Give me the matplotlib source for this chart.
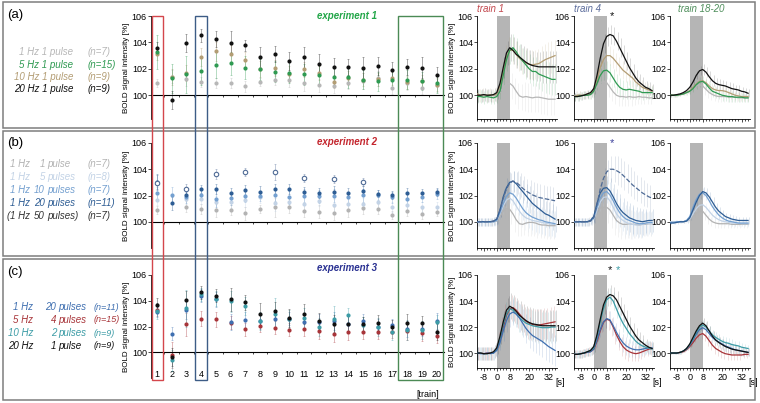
import numpy as np
import matplotlib
matplotlib.use("Agg")
import matplotlib.pyplot as plt
from matplotlib.patches import Rectangle
from matplotlib.transforms import blended_transform_factory

plt.rcParams['font.family'] = ['Liberation Sans', 'DejaVu Sans']
plt.rcParams['axes.linewidth'] = 0.6

nan = np.nan
trains = np.arange(1, 21)
t_sec = np.arange(-12, 37, 2)

# ---------------- train-wise means (left column) ----------------
# experiment 1
a_gray = [100.94, 101.40, 101.22, 101.01, 100.94, 100.94, 100.68, 101.01, 101.14, 101.14,
          100.89, 100.76, 100.68, 100.94, 101.09, 101.27, 100.56, 100.89, 100.58, 100.76]
a_green = [103.25, 101.27, 101.57, 101.85, 102.28, 102.41, 102.10, 101.95, 101.77, 101.72,
           101.58, 101.56, 101.40, 101.36, 101.19, 101.04, 101.19, 101.19, 101.06, 100.89]
a_tan = [103.16, 101.35, 101.70, 102.91, 103.32, 103.09, 102.66, 102.00, 102.08, 101.62,
         101.95, 101.68, 101.03, 101.30, 101.19, 101.22, 101.27, 100.99, 101.06, 100.81]
a_black = [103.54, 99.62, 103.97, 104.53, 104.25, 103.97, 103.77, 102.86, 103.14, 102.60,
           102.86, 102.40, 102.12, 102.12, 102.03, 102.23, 101.90, 102.15, 102.10, 101.52]
a_gray_err = [0.3, 0.5, 0.5, 0.4, 0.4, 0.4, 0.4, 0.3, 0.4, 0.5, 0.6, 0.5, 0.5, 0.5, 0.6, 0.6, 0.5, 0.5, 0.5, 0.5]
a_green_err = [1.3, 1.1, 1.4, 1.1, 1.0, 0.9, 0.9, 0.8, 0.8, 0.8, 0.8, 0.8, 0.8, 0.8, 0.7, 0.7, 0.7, 0.7, 0.7, 0.7]
a_tan_err = [0.5, 0.6, 0.6, 0.7, 0.7, 0.7, 0.6, 0.6, 0.6, 0.6, 0.6, 0.5, 0.5, 0.5, 0.5, 0.5, 0.5, 0.5, 0.5, 0.5]
a_black_err = [0.5, 0.7, 0.7, 0.5, 0.6, 0.9, 0.4, 0.8, 0.6, 0.7, 0.8, 0.7, 0.7, 0.6, 0.9, 0.7, 0.6, 0.6, 0.8, 0.6]

# experiment 2
b_gray = [100.89, nan, 101.16, 100.96, 100.89, 100.89, 100.63, 100.96, 101.09, 101.09,
          100.84, 100.76, 100.66, 100.89, 101.01, 100.96, 100.50, 100.84, 100.58, 100.76]
b_light = [101.67, nan, 101.75, 101.72, 101.47, 101.47, 101.65, 101.85, 101.42, 101.50,
           101.39, 101.57, 101.27, 101.32, 101.39, 101.47, 101.14, 101.29, 101.14, 101.14]
b_med = [102.18, 102.05, 101.85, 102.05, 101.72, 101.80, 101.97, 101.97, 102.05, 101.88,
         102.00, 101.95, 102.00, 101.85, 102.03, 102.05, 101.85, 101.77, 101.90, 102.10]
b_dark = [103.06, 101.42, 102.05, 102.48, 102.48, 102.18, 102.40, 102.30, 102.48, 102.48,
          102.25, 102.18, 102.29, 102.18, 102.35, 102.15, 102.03, 102.18, 102.18, 102.30]
b_open = [102.99, nan, 102.48, nan, 103.62, nan, 103.80, nan, 103.80, nan,
          103.35, nan, 103.27, nan, 103.06, nan, nan, nan, nan, nan]
b_gray_err = [0.3, 0.0, 0.4, 0.4, 0.5, 0.4, 0.5, 0.3, 0.7, 0.4, 0.5, 0.5, 0.5, 0.5, 0.4, 0.4, 0.3, 0.4, 0.4, 0.3]
b_light_err = [0.4, 0.0, 0.4, 0.4, 0.5, 0.4, 0.5, 0.4, 0.6, 0.4, 0.5, 0.4, 0.5, 0.4, 0.4, 0.4, 0.4, 0.4, 0.4, 0.4]
b_med_err = [0.5, 0.6, 0.4, 0.4, 0.6, 0.5, 0.5, 0.4, 0.5, 0.5, 0.5, 0.5, 0.5, 0.4, 0.5, 0.4, 0.4, 0.4, 0.4, 0.4]
b_dark_err = [0.6, 0.5, 0.4, 0.3, 0.4, 0.4, 0.4, 0.4, 0.4, 0.4, 0.4, 0.4, 0.4, 0.4, 0.4, 0.3, 0.3, 0.4, 0.3, 0.3]
b_open_err = [0.6, 0.0, 0.4, 0.0, 0.4, 0.0, 0.3, 0.0, 0.6, 0.0, 0.3, 0.0, 0.3, 0.0, 0.3, 0.0, 0.0, 0.0, 0.0, 0.0]

# experiment 3
c_blue = [103.15, 101.45, 103.30, 104.40, 104.10, 102.35, 102.49, 102.39, 102.57, 102.60,
          102.36, 102.36, 102.40, 102.20, 102.45, 102.00, 102.10, 101.80, 101.77, 102.42]
c_red = [103.30, 99.77, 102.18, 102.62, 102.55, 102.31, 101.79, 102.05, 101.90, 101.74,
         101.77, 101.62, 101.43, 101.59, 101.54, 101.54, 101.60, 101.67, 101.46, 101.25]
c_teal = [103.22, 99.38, 103.40, 104.49, 104.16, 103.95, 103.58, 102.40, 103.00, 102.62,
          102.65, 101.95, 102.57, 102.86, 102.10, 101.98, 101.59, 101.72, 101.72, 102.32]
c_black = [103.64, 99.64, 104.05, 104.65, 104.39, 104.10, 103.87, 102.96, 103.22, 102.68,
           102.96, 102.44, 102.18, 102.23, 102.16, 102.29, 101.98, 102.29, 102.24, 101.59]
c_blue_err = [0.4, 0.5, 0.7, 0.5, 0.6, 0.6, 0.6, 0.6, 0.6, 0.5, 0.6, 0.6, 0.7, 0.6, 0.5, 0.6, 0.5, 0.6, 0.5, 0.6]
c_red_err = [0.5, 1.0, 0.9, 0.6, 0.6, 0.5, 0.5, 0.5, 0.5, 0.5, 0.5, 0.6, 0.6, 0.6, 0.5, 0.5, 0.5, 0.7, 0.6, 0.5]
c_teal_err = [0.6, 0.8, 1.4, 0.5, 0.6, 0.8, 0.7, 0.7, 1.2, 0.7, 0.8, 0.7, 1.0, 0.6, 0.6, 0.7, 0.6, 0.8, 0.7, 0.6]
c_black_err = [0.6, 0.7, 0.7, 0.5, 0.5, 0.9, 0.6, 0.9, 0.7, 0.7, 0.8, 0.6, 0.7, 0.6, 0.6, 0.6, 0.5, 0.7, 0.6, 0.6]

# ---------------- time courses (right columns), t = -12..36 s ----------------
a1_gray = [100.0, 99.95, 100.0, 99.95, 100.0, 99.95, 100.0, 100.2, 100.6, 100.85, 100.9, 100.7, 100.3,
           99.95, 99.85, 99.9, 99.85, 99.8, 99.85, 99.85, 99.8, 99.75, 99.7, 99.7, 99.7]
a1_green = [99.9, 99.9, 99.85, 99.9, 99.85, 99.8, 99.9, 100.3, 101.5, 102.7, 103.4, 103.6, 103.3,
            102.9, 102.6, 102.3, 102.0, 101.8, 101.8, 101.6, 101.5, 101.4, 101.3, 101.2, 101.2]
a1_tan = [100.1, 100.0, 100.05, 100.0, 100.05, 100.0, 100.1, 100.7, 101.8, 102.9, 103.4, 103.4, 103.1,
          102.8, 102.6, 102.45, 102.35, 102.3, 102.35, 102.4, 102.55, 102.7, 102.8, 102.9, 103.0]
a1_black = [100.0, 100.0, 100.05, 100.0, 100.0, 100.05, 100.2, 100.9, 102.1, 103.2, 103.6, 103.4, 103.1,
            102.9, 102.7, 102.5, 102.35, 102.25, 102.2, 102.15, 102.15, 102.15, 102.15, 102.15, 102.15]
a4_gray = [100.0, 100.0, 100.0, 100.0, 100.0, 100.05, 100.2, 100.6, 100.95, 101.05, 100.95, 100.6, 100.25,
           100.0, 99.9, 99.9, 99.85, 99.9, 99.85, 99.85, 99.9, 99.85, 99.85, 99.8, 99.8]
a4_green = [99.9, 99.9, 99.95, 100.0, 100.0, 100.05, 100.3, 100.9, 101.5, 101.85, 101.9, 101.7, 101.3,
            100.9, 100.6, 100.45, 100.4, 100.45, 100.4, 100.35, 100.3, 100.2, 100.2, 100.2, 100.2]
a4_tan = [99.9, 100.0, 100.0, 100.0, 100.1, 100.1, 100.4, 101.2, 102.1, 102.7, 103.0, 103.0, 102.8,
          102.5, 102.2, 101.9, 101.7, 101.5, 101.3, 101.0, 100.8, 100.6, 100.5, 100.4, 100.3]
a4_black = [99.9, 99.9, 99.95, 100.0, 100.1, 100.2, 100.5, 101.5, 102.8, 103.9, 104.45, 104.6, 104.5,
            104.1, 103.6, 103.1, 102.6, 102.1, 101.7, 101.3, 101.0, 100.8, 100.6, 100.5, 100.35]
a18_gray = [100.0, 100.0, 100.0, 100.05, 100.1, 100.2, 100.3, 100.5, 100.7, 100.8, 100.7, 100.45, 100.2,
            100.05, 99.95, 99.9, 99.9, 99.9, 99.85, 99.85, 99.85, 99.8, 99.8, 99.8, 99.8]
a18_green = [100.0, 100.0, 100.0, 100.05, 100.1, 100.2, 100.3, 100.5, 100.8, 101.0, 101.05, 100.85, 100.55,
             100.3, 100.2, 100.1, 100.0, 99.95, 99.9, 99.9, 99.85, 99.85, 99.85, 99.8, 99.8]
a18_tan = [100.0, 100.0, 100.0, 100.05, 100.1, 100.2, 100.35, 100.6, 100.85, 101.05, 101.1, 100.95, 100.7,
           100.5, 100.4, 100.35, 100.35, 100.3, 100.2, 100.1, 100.0, 99.95, 99.9, 99.9, 99.9]
a18_black = [100.0, 100.0, 100.05, 100.1, 100.2, 100.35, 100.6, 101.0, 101.5, 101.85, 101.95, 101.75, 101.4,
             101.1, 100.9, 100.8, 100.75, 100.7, 100.6, 100.5, 100.45, 100.4, 100.3, 100.25, 100.15]

b1_gray = [100.0, 100.0, 100.0, 100.0, 100.0, 100.0, 100.05, 100.4, 100.8, 101.0, 100.95, 100.6, 100.15,
           99.85, 99.8, 99.9, 99.95, 99.95, 99.9, 99.8, 99.75, 99.75, 99.7, 99.7, 99.7]
b1_light = [100.0, 100.0, 100.0, 100.0, 100.0, 100.0, 100.1, 100.6, 101.2, 101.65, 101.8, 101.6, 101.2,
            100.8, 100.5, 100.3, 100.2, 100.1, 100.05, 100.0, 99.95, 99.9, 99.85, 99.8, 99.8]
b1_med = [100.0, 100.0, 100.0, 100.0, 100.0, 100.0, 100.1, 100.7, 101.4, 101.95, 102.2, 102.1, 101.8,
          101.4, 101.0, 100.7, 100.5, 100.35, 100.25, 100.15, 100.1, 100.0, 99.95, 99.9, 99.85]
b1_dark = [100.0, 100.0, 100.0, 100.0, 100.0, 100.05, 100.2, 100.9, 101.9, 102.6, 103.0, 103.1, 102.9,
           102.6, 102.3, 102.0, 101.7, 101.4, 101.2, 101.0, 100.8, 100.6, 100.5, 100.35, 100.2]
b1_dash = [100.0, 100.0, 100.0, 100.0, 100.0, 100.05, 100.2, 100.9, 101.8, 102.5, 102.95, 103.1, 103.0,
           102.8, 102.55, 102.35, 102.2, 102.05, 101.95, 101.85, 101.8, 101.75, 101.7, 101.65, 101.6]
b4_gray = [100.0, 100.0, 100.0, 100.0, 100.0, 100.05, 100.3, 100.8, 101.05, 101.1, 101.1, 100.9, 100.5,
           100.1, 99.9, 99.8, 99.8, 99.85, 99.8, 99.8, 99.75, 99.8, 99.8, 99.85, 99.85]
b4_light = [100.0, 100.0, 100.0, 100.0, 100.0, 100.05, 100.2, 100.9, 101.5, 101.85, 101.9, 101.6, 101.1,
            100.6, 100.3, 100.1, 99.95, 99.85, 99.8, 99.75, 99.75, 99.8, 99.85, 99.85, 99.85]
b4_med = [100.0, 100.0, 100.0, 100.0, 100.0, 100.05, 100.3, 101.1, 101.8, 102.2, 102.3, 102.05, 101.6,
          101.1, 100.7, 100.4, 100.2, 100.1, 100.0, 99.9, 99.85, 99.85, 99.9, 99.95, 99.95]
b4_dark = [100.0, 100.0, 100.0, 100.0, 100.0, 100.1, 100.4, 101.4, 102.2, 102.55, 102.6, 102.35, 101.9,
           101.4, 101.0, 100.7, 100.5, 100.3, 100.2, 100.1, 100.05, 100.0, 100.05, 100.1, 100.1]
b4_dash = [100.0, 100.0, 100.0, 100.0, 100.0, 100.05, 100.3, 101.3, 102.5, 103.3, 103.8, 104.0, 104.0,
           103.9, 103.75, 103.55, 103.3, 103.05, 102.8, 102.6, 102.4, 102.2, 102.05, 101.9, 101.8]
b18_gray = [100.0, 100.0, 100.0, 100.0, 100.0, 100.05, 100.15, 100.4, 100.65, 100.8, 100.8, 100.5, 100.2,
            100.0, 99.9, 99.85, 99.85, 99.85, 99.85, 99.8, 99.8, 99.8, 99.8, 99.8, 99.8]
b18_light = [100.0, 100.0, 100.0, 100.0, 100.0, 100.05, 100.2, 100.6, 101.0, 101.25, 101.3, 101.1, 100.8,
             100.5, 100.3, 100.15, 100.05, 100.0, 99.95, 99.9, 99.9, 99.9, 99.85, 99.85, 99.85]
b18_med = [99.95, 99.95, 100.0, 100.0, 100.0, 100.1, 100.4, 101.1, 101.7, 102.1, 102.2, 102.0, 101.6,
           101.15, 100.8, 100.5, 100.3, 100.15, 100.05, 100.0, 99.95, 99.9, 99.9, 99.9, 99.9]
b18_dark = [99.9, 99.9, 99.95, 100.0, 100.0, 100.05, 100.3, 100.9, 101.5, 102.0, 102.3, 102.2, 101.9,
            101.5, 101.1, 100.8, 100.6, 100.4, 100.3, 100.2, 100.15, 100.1, 100.1, 100.1, 100.1]

c1_blue = [100.0, 99.95, 99.95, 100.0, 99.95, 100.0, 100.2, 100.8, 101.7, 102.5, 103.0, 103.15, 103.0,
           102.7, 102.3, 101.9, 101.6, 101.35, 101.2, 101.05, 100.9, 100.7, 100.5, 100.35, 100.2]
c1_red = [100.0, 100.0, 99.95, 100.0, 100.0, 100.0, 100.3, 101.0, 102.0, 102.9, 103.4, 103.5, 103.3,
          103.0, 102.7, 102.45, 102.3, 102.2, 102.15, 102.15, 102.2, 102.25, 102.3, 102.35, 102.4]
c1_teal = [100.0, 100.0, 99.95, 99.95, 100.0, 100.0, 100.3, 101.1, 102.2, 103.0, 103.4, 103.3, 103.0,
           102.75, 102.5, 102.3, 102.2, 102.1, 102.05, 102.0, 101.95, 101.95, 101.95, 102.0, 102.0]
c1_black = [100.0, 100.0, 99.95, 99.95, 100.0, 100.1, 100.4, 101.3, 102.4, 103.3, 103.6, 103.45, 103.2,
            102.9, 102.7, 102.5, 102.35, 102.25, 102.2, 102.15, 102.1, 102.1, 102.1, 102.1, 102.1]
c4_blue = [99.9, 99.9, 99.95, 100.0, 100.05, 100.1, 100.3, 101.0, 101.8, 102.4, 102.65, 102.55, 102.1,
           101.6, 101.15, 100.8, 100.55, 100.4, 100.3, 100.25, 100.25, 100.3, 100.35, 100.4, 100.4]
c4_red = [99.9, 99.9, 99.95, 100.0, 100.05, 100.1, 100.3, 100.9, 101.7, 102.35, 102.6, 102.5, 102.0,
          101.4, 100.9, 100.5, 100.25, 100.1, 100.0, 99.95, 100.0, 100.1, 100.2, 100.3, 100.35]
c4_teal = [99.9, 99.9, 99.95, 100.0, 100.1, 100.2, 100.4, 101.3, 102.4, 103.4, 104.1, 104.3, 104.0,
           103.4, 102.8, 102.3, 101.9, 101.5, 101.2, 100.9, 100.7, 100.55, 100.45, 100.4, 100.3]
c4_black = [99.9, 99.9, 99.95, 100.0, 100.1, 100.2, 100.5, 101.4, 102.6, 103.7, 104.3, 104.5, 104.4,
            104.1, 103.6, 103.1, 102.6, 102.1, 101.7, 101.3, 101.0, 100.8, 100.6, 100.45, 100.35]
c18_blue = [100.0, 100.0, 100.0, 100.05, 100.15, 100.3, 100.6, 101.0, 101.45, 101.8, 101.95, 101.8, 101.5,
            101.2, 101.0, 100.85, 100.7, 100.55, 100.45, 100.35, 100.25, 100.2, 100.15, 100.1, 100.05]
c18_red = [100.0, 100.0, 100.0, 100.05, 100.1, 100.25, 100.5, 100.8, 101.15, 101.4, 101.5, 101.3, 100.95,
           100.6, 100.35, 100.2, 100.05, 99.95, 99.9, 99.85, 99.85, 99.85, 99.85, 99.9, 99.9]
c18_teal = [100.0, 100.0, 100.0, 100.05, 100.15, 100.35, 100.65, 101.1, 101.6, 102.0, 102.15, 102.0, 101.7,
            101.4, 101.2, 101.05, 100.9, 100.8, 100.75, 100.65, 100.6, 100.55, 100.45, 100.4, 100.35]
c18_black = [100.0, 100.0, 100.0, 100.05, 100.15, 100.35, 100.7, 101.2, 101.7, 102.1, 102.3, 102.1, 101.7,
             101.3, 101.0, 100.8, 100.65, 100.5, 100.4, 100.3, 100.25, 100.2, 100.15, 100.1, 100.05]

# standard errors of the time courses (one profile per panel)
err_a1 = [0.5, 0.5, 0.5, 0.5, 0.5, 0.5, 0.5, 0.6, 0.8, 0.9, 1.0, 1.0, 1.0, 1.0, 1.0, 1.1, 1.1, 1.1, 1.1, 1.1, 1.2, 1.2, 1.2, 1.2, 1.2]
err_a4 = [0.3, 0.3, 0.3, 0.3, 0.3, 0.35, 0.4, 0.5, 0.6, 0.7, 0.7, 0.7, 0.7, 0.7, 0.7, 0.7, 0.7, 0.7, 0.65, 0.6, 0.6, 0.55, 0.5, 0.5, 0.5]
err_a18 = [0.1, 0.1, 0.1, 0.1, 0.1, 0.15, 0.2, 0.25, 0.3, 0.35, 0.4, 0.4, 0.4, 0.4, 0.4, 0.4, 0.4, 0.4, 0.4, 0.4, 0.35, 0.35, 0.35, 0.3, 0.3]
err_b1 = [0.3, 0.3, 0.3, 0.3, 0.3, 0.3, 0.35, 0.5, 0.6, 0.7, 0.8, 0.8, 0.9, 0.9, 0.9, 0.9, 1.0, 1.0, 1.0, 1.0, 1.0, 1.0, 1.0, 1.0, 1.0]
err_b4 = [0.3, 0.3, 0.3, 0.3, 0.3, 0.3, 0.4, 0.5, 0.7, 0.8, 0.9, 1.0, 1.0, 1.1, 1.1, 1.1, 1.1, 1.1, 1.1, 1.0, 1.0, 1.0, 0.9, 0.9, 0.9]
err_b18 = [0.1, 0.1, 0.1, 0.1, 0.1, 0.15, 0.2, 0.25, 0.3, 0.3, 0.35, 0.35, 0.35, 0.35, 0.35, 0.3, 0.3, 0.3, 0.3, 0.3, 0.3, 0.25, 0.25, 0.25, 0.25]
err_c1 = [0.5, 0.5, 0.5, 0.5, 0.5, 0.5, 0.5, 0.6, 0.8, 0.9, 1.0, 1.0, 1.0, 1.1, 1.1, 1.1, 1.2, 1.2, 1.2, 1.2, 1.2, 1.2, 1.2, 1.2, 1.2]
err_c4 = [0.3, 0.3, 0.3, 0.3, 0.3, 0.35, 0.4, 0.5, 0.6, 0.7, 0.7, 0.7, 0.7, 0.7, 0.7, 0.7, 0.7, 0.7, 0.6, 0.6, 0.6, 0.55, 0.5, 0.5, 0.5]
err_c18 = [0.1, 0.1, 0.1, 0.1, 0.1, 0.15, 0.2, 0.25, 0.3, 0.35, 0.4, 0.4, 0.4, 0.4, 0.4, 0.4, 0.4, 0.4, 0.4, 0.4, 0.35, 0.35, 0.35, 0.3, 0.3]

# legend texts
a_labels = ["1 Hz 1 pulse", "5 Hz 1 pulse", "10 Hz 1 pulse", "20 Hz 1 pulse"]
a_ns = ["(n=7)", "(n=15)", "(n=9)", "(n=9)"]
b_num = ["1", "5", "10", "20", "50"]
b_word = ["pulse", "pulses", "pulses", "pulses", "pulses)"]
b_ns = ["(n=7)", "(n=8)", "(n=7)", "(n=11)", "(n=7)"]
c_hz = ["1 Hz", "5 Hz", "10 Hz", "20 Hz"]
c_num = ["20", "4", "2", "1"]
c_word = ["pulses", "pulses", "pulses", "pulse"]
c_ns = ["(n=11)", "(n=15)", "(n=9)", "(n=9)"]

# colours
GRAY, GREEN, TAN, BLACK = '#b7b7b7', '#2f9a52', '#b39d74', '#111111'
B_GRAY, B_LIGHT, B_MED, B_DARK, B_OPEN = '#b3b3b3', '#c3d3e6', '#74a0d0', '#2e5d94', '#4f6b96'
C_BLUE, C_RED, C_TEAL = '#3f6fb0', '#a8353a', '#3c9ca6'

W, H = 760, 403
fig = plt.figure(figsize=(W / 100, H / 100), dpi=100)


def fx(x):
    return x / W


def fy(y):
    return 1 - y / H


def px_axes(l, t, r, b):
    return fig.add_axes([fx(l), fy(b), (r - l) / W, (b - t) / H])


FS = 6.5

# panel frames
for top, bot in [(2, 128), (131, 256), (259, 400)]:
    fig.add_artist(Rectangle((fx(3), fy(bot)), (755 - 3) / W, (bot - top) / H,
                             transform=fig.transFigure, fill=False, ec='#7d7d7d', lw=1.1))

rows = [(16, 119, 98.2, 119, 98.2), (143, 248, 98.0, 248, 98.0), (275, 378, 98.0, 368, 98.85)]


def scatter_axes(top, bot, ylo, show_labels):
    ax = px_axes(151, top, 444, bot)
    ax.set_xlim(0.6, 20.5)
    ax.set_ylim(ylo, 106)
    ax.spines['top'].set_visible(False)
    ax.spines['right'].set_visible(False)
    ax.spines['bottom'].set_position(('data', 100))
    ax.spines['bottom'].set_linewidth(0.8)
    ax.set_yticks([100, 102, 104, 106])
    ax.set_xticks(trains)
    ax.set_xticklabels([str(i) for i in trains] if show_labels else [])
    ax.set_xticks(np.arange(1.5, 20, 1), minor=True)
    ax.tick_params(axis='x', which='major', length=0, pad=13, labelsize=FS)
    ax.tick_params(axis='x', which='minor', length=1.5, width=0.5)
    ax.tick_params(axis='y', length=2, width=0.5, pad=1, labelsize=FS)
    ax.set_ylabel('BOLD signal intensity [%]', fontsize=5.8, labelpad=1.5)
    ax.patch.set_alpha(0)
    return ax


def draw_points(ax, vals, errs, color, open_marker=False):
    ax.errorbar(trains, vals, yerr=errs, fmt='none', ecolor=color, alpha=0.45,
                elinewidth=0.55, capsize=0.8, capthick=0.5, zorder=2)
    if open_marker:
        ax.plot(trains, vals, 'o', ms=3.2, mfc='white', mec=color, mew=0.8, zorder=3)
    else:
        ax.plot(trains, vals, 'o', ms=3.0, color=color, mec='none', zorder=3)


def tc_axes(left, top, bot, ylo, show_x):
    ax = px_axes(left, top, left + 80, bot)
    ax.set_xlim(-12.2, 37.2)
    ax.set_ylim(ylo, 106)
    ax.spines['top'].set_visible(False)
    ax.spines['right'].set_visible(False)
    ax.axvspan(0, 8, color='#b5b5b5', lw=0, zorder=0)
    ax.set_yticks([100, 102, 104, 106])
    ax.set_xticks([-8, 0, 8, 20, 32])
    ax.set_xticklabels(['-8', '0', '8', '20', '32'] if show_x else [])
    ax.set_xticks(np.arange(-12, 37, 2), minor=True)
    ax.tick_params(axis='x', which='major', length=2, width=0.5, pad=1.5, labelsize=FS)
    ax.tick_params(axis='x', which='minor', length=1.5, width=0.5)
    ax.tick_params(axis='y', length=2, width=0.5, pad=1, labelsize=FS)
    ax.patch.set_alpha(0)
    if show_x:
        ax.text(0.98, -0.16, '[s]', transform=ax.transAxes, fontsize=FS, ha='left', va='center')
    return ax


def draw_curves(ax, curves, err):
    err = np.array(err)
    for k, (vals, color, ls) in enumerate(curves):
        vals = np.array(vals)
        off = (k - (len(curves) - 1) / 2) * 0.45
        ax.vlines(t_sec + off, vals - err, vals + err, color=color, alpha=0.22, lw=0.5, zorder=1)
    for vals, color, ls in curves:
        ax.plot(t_sec, vals, color=color, lw=0.9, ls=ls, zorder=3)


tc_left = [477, 574, 670]

# ---------- row (a) ----------
top, bot, ylo, rbot, rylo = rows[0]
ax_a = scatter_axes(top, bot, ylo, False)
for vals, errs, col in [(a_gray, a_gray_err, GRAY), (a_tan, a_tan_err, TAN),
                        (a_green, a_green_err, GREEN), (a_black, a_black_err, BLACK)]:
    draw_points(ax_a, vals, errs, col)
ta = [tc_axes(l, top, rbot, rylo, False) for l in tc_left]
draw_curves(ta[0], [(a1_gray, GRAY, '-'), (a1_tan, TAN, '-'), (a1_green, GREEN, '-'), (a1_black, BLACK, '-')], err_a1)
draw_curves(ta[1], [(a4_gray, GRAY, '-'), (a4_tan, TAN, '-'), (a4_green, GREEN, '-'), (a4_black, BLACK, '-')], err_a4)
draw_curves(ta[2], [(a18_gray, GRAY, '-'), (a18_tan, TAN, '-'), (a18_green, GREEN, '-'), (a18_black, BLACK, '-')], err_a18)
ta[0].set_ylabel('BOLD signal intensity [%]', fontsize=5.8, labelpad=1)
ta[1].text(11, 106, '*', fontsize=8, ha='center', va='center', color=BLACK)
for ax, title, col in zip(ta, ['train 1', 'train 4', 'train 18-20'], ['#c2474d', '#5c6d9c', '#4f8f5c']):
    ax.text(0.0 if title != 'train 18-20' else 0.1, 1.07, title, transform=ax.transAxes,
            fontsize=7, style='italic', color=col, ha='left', va='center')

# ---------- row (b) ----------
top, bot, ylo, rbot, rylo = rows[1]
ax_b = scatter_axes(top, bot, ylo, False)
for vals, errs, col in [(b_gray, b_gray_err, B_GRAY), (b_light, b_light_err, B_LIGHT),
                        (b_med, b_med_err, B_MED), (b_dark, b_dark_err, B_DARK)]:
    draw_points(ax_b, vals, errs, col)
draw_points(ax_b, b_open, b_open_err, B_OPEN, open_marker=True)
tb = [tc_axes(l, top, rbot, rylo, False) for l in tc_left]
draw_curves(tb[0], [(b1_gray, B_GRAY, '-'), (b1_light, B_LIGHT, '-'), (b1_med, B_MED, '-'),
                    (b1_dark, B_DARK, '-'), (b1_dash, B_OPEN, '--')], err_b1)
draw_curves(tb[1], [(b4_gray, B_GRAY, '-'), (b4_light, B_LIGHT, '-'), (b4_med, B_MED, '-'),
                    (b4_dark, B_DARK, '-'), (b4_dash, B_OPEN, '--')], err_b4)
draw_curves(tb[2], [(b18_gray, B_GRAY, '-'), (b18_light, B_LIGHT, '-'), (b18_med, B_MED, '-'),
                    (b18_dark, B_DARK, '-')], err_b18)
tb[0].set_ylabel('BOLD signal intensity [%]', fontsize=5.8, labelpad=1)
tb[1].text(11, 106, '*', fontsize=8, ha='center', va='center', color='#3b3f9a')

# ---------- row (c) ----------
top, bot, ylo, rbot, rylo = rows[2]
ax_c = scatter_axes(top, bot, ylo, True)
for vals, errs, col in [(c_red, c_red_err, C_RED), (c_blue, c_blue_err, C_BLUE),
                        (c_teal, c_teal_err, C_TEAL), (c_black, c_black_err, BLACK)]:
    draw_points(ax_c, vals, errs, col)
ax_c.set_xlabel('[train]', fontsize=FS)
ax_c.xaxis.set_label_coords(0.943, -0.12)
tc = [tc_axes(l, top, rbot, rylo, True) for l in tc_left]
draw_curves(tc[0], [(c1_red, C_RED, '-'), (c1_teal, C_TEAL, '-'), (c1_blue, C_BLUE, '-'), (c1_black, BLACK, '-')], err_c1)
draw_curves(tc[1], [(c4_red, C_RED, '-'), (c4_blue, C_BLUE, '-'), (c4_teal, C_TEAL, '-'), (c4_black, BLACK, '-')], err_c4)
draw_curves(tc[2], [(c18_red, C_RED, '-'), (c18_blue, C_BLUE, '-'), (c18_teal, C_TEAL, '-'), (c18_black, BLACK, '-')], err_c18)
tc[0].set_ylabel('BOLD signal intensity [%]', fontsize=5.8, labelpad=1)
tc[1].text(10, 106.4, '*', fontsize=8, ha='center', va='center', color=BLACK, clip_on=False)
tc[1].text(15, 106.4, '*', fontsize=8, ha='center', va='center', color=C_TEAL, clip_on=False)

# ---------- highlight boxes spanning the three rows ----------
tr = blended_transform_factory(ax_c.transData, fig.transFigure)
for x0, x1, col in [(0.65, 1.4, '#d4464c'), (3.6, 4.4, '#3d5c86'), (17.4, 20.45, '#4b8a55')]:
    fig.add_artist(Rectangle((x0, fy(380)), x1 - x0, (380 - 16) / H, transform=tr,
                             fill=False, ec=col, lw=1.0, zorder=10))

# ---------- texts ----------
fig.text(fx(7), fy(15), '(a)', fontsize=9.5, va='center')
fig.text(fx(7), fy(143), '(b)', fontsize=9.5, va='center')
fig.text(fx(7), fy(272), '(c)', fontsize=9.5, va='center')
fig.text(fx(377), fy(16), 'experiment 1', fontsize=7, weight='bold', style='italic', color='#22a648', ha='right', va='center')
fig.text(fx(377), fy(142), 'experiment 2', fontsize=7, weight='bold', style='italic', color='#c4262e', ha='right', va='center')
fig.text(fx(377), fy(268), 'experiment 3', fontsize=7, weight='bold', style='italic', color='#2a3192', ha='right', va='center')

LF = 7
for i, (lab, n, col) in enumerate(zip(a_labels, a_ns, [GRAY, GREEN, TAN, BLACK])):
    y = fy(52 + i * 12.5)
    fig.text(fx(73), y, lab, ha='right', va='center', fontsize=LF, style='italic', color=col)
    fig.text(fx(88), y, n, ha='left', va='center', fontsize=LF, style='italic', color=col)

b_cols = [B_GRAY, B_LIGHT, B_MED, B_DARK, '#333333']
for i, (num, word, n, col) in enumerate(zip(b_num, b_word, b_ns, b_cols)):
    y = fy(164 + i * 13)
    if i == 4:
        fig.text(fx(10), y, '(', ha='right', va='center', fontsize=LF, style='italic', color=col)
    fig.text(fx(10), y, '1 Hz', ha='left', va='center', fontsize=LF, style='italic', color=col)
    fig.text(fx(45), y, num, ha='right', va='center', fontsize=LF, style='italic', color=col)
    fig.text(fx(47), y, word, ha='left', va='center', fontsize=LF, style='italic', color=col)
    fig.text(fx(88), y, n, ha='left', va='center', fontsize=LF, style='italic', color=col)

c_cols = [C_BLUE, C_RED, C_TEAL, BLACK]
for i, (hz, num, word, n, col) in enumerate(zip(c_hz, c_num, c_word, c_ns, c_cols)):
    y = fy(307 + i * 13)
    fig.text(fx(33), y, hz, ha='right', va='center', fontsize=LF, style='italic', color=col)
    fig.text(fx(56), y, num, ha='right', va='center', fontsize=LF, style='italic', color=col)
    fig.text(fx(58), y, word, ha='left', va='center', fontsize=LF, style='italic', color=col)
    fig.text(fx(94), y, n, ha='left', va='center', fontsize=6.5, style='italic', color=col)

fig.savefig('out.png', dpi=100)
